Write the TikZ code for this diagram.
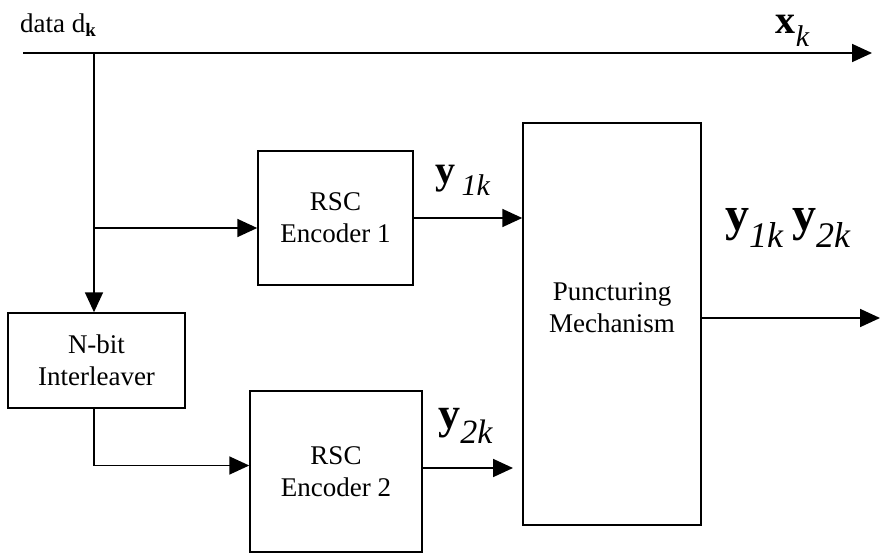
\documentclass[tikz,border=0pt]{standalone}
\usepackage{fontspec}
\setmainfont{Liberation Serif}
\usetikzlibrary{positioning, arrows.meta, calc}

\tikzset{
    blk/.style={draw, line width=1.5pt, align=center,
        font=\fontsize{27}{32}\selectfont, inner sep=0pt},
    arr/.style={line width=1.8pt, -{Triangle[length=20pt, width=18pt]}},
}

\begin{document}
\begin{tikzpicture}[x=1pt, y=-1pt]
    \useasboundingbox (0,0) rectangle (881,554);

    % blocks
    \node[blk, minimum width=155pt, minimum height=134pt] (enc1) at (335.5,218) {RSC\\Encoder 1};
    \node[blk, minimum width=172pt, minimum height=161pt] (enc2) at (336,471.5) {RSC\\Encoder 2};
    \node[blk, minimum width=177pt, minimum height=95pt] (inter) at (96.5,360.5) {N-bit\\Interleaver};
    \node[blk, minimum width=178pt, minimum height=402pt] (punct) at (612,324) {Puncturing\\Mechanism\\[0pt]};

    % points on the wires
    \coordinate (din) at (23,53);
    \coordinate (tap) at (94,53);
    \coordinate (xout) at (872,53);
    \coordinate (split) at (94,228);
    \coordinate (p2in) at (513,468);
    \coordinate (yout) at (880,318);

    % labels
    \node[anchor=south west, inner sep=0pt, font=\fontsize{27}{32}\selectfont] (dlab) at (20,37)
        {data d\textsubscript{\textbf{k}}};
    \node[anchor=base, inner sep=0pt, font=\fontsize{40}{46}\selectfont] (xlab) at (793,34)
        {\textbf{x}\textsubscript{\fontsize{30}{34}\selectfont\textit{k}}};
    \node[font=\fontsize{40}{46}\selectfont] (y1lab) at (463,180)
        {\textbf{y}\,\textsubscript{\fontsize{30}{34}\selectfont\textit{1k}}};
    \node[font=\fontsize{44}{50}\selectfont] (y2lab) at (466,426)
        {\textbf{y}\textsubscript{\fontsize{34}{38}\selectfont\textit{2k}}};
    \node[font=\fontsize{48}{54}\selectfont] (ylab) at (788,228)
        {\textbf{y}\textsubscript{\fontsize{36}{40}\selectfont\textit{1k}}\,\textbf{y}\textsubscript{\fontsize{36}{40}\selectfont\textit{2k}}};

    % connectors
    \draw[arr] (din) -- (xout);
    \draw[arr] (tap) -- (tap |- inter.north);
    \draw[arr] (split) -- (split -| enc1.west);
    \draw[arr] (enc1.east) -- (enc1.east -| punct.west);
    \draw[arr] (tap |- inter.south) |- ([yshift=6pt]enc2.west);
    \draw[arr] (enc2.east |- p2in) -- (p2in);
    \draw[arr] ([yshift=6pt]punct.east) -- (yout);
\end{tikzpicture}
\end{document}
